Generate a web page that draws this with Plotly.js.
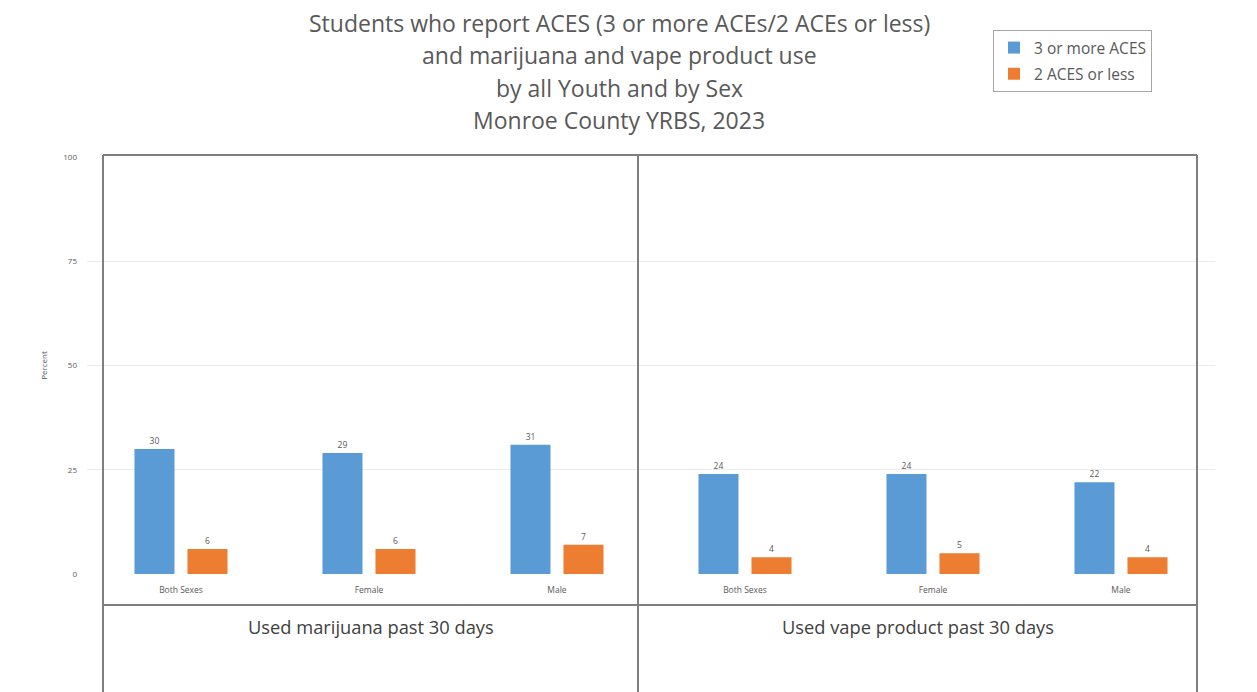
<!DOCTYPE html>
<html><head><meta charset="utf-8">
<script src="https://cdn.plot.ly/plotly-3.0.1.min.js"></script>
<style>html,body{margin:0;padding:0;background:#fff}#chart{width:1257px;height:692px}</style>
</head><body><div id="chart"></div>
<script>
// ---- data ----
const titleLines = ["Students who report ACES (3 or more ACEs/2 ACEs or less)", "and marijuana and vape product use", "by all Youth and by Sex", "Monroe County YRBS, 2023"];
const groups = ["Used marijuana past 30 days", "Used vape product past 30 days"];
const categories = ["Both Sexes", "Female", "Male", "Both Sexes", "Female", "Male"];
const seriesNames = ["3 or more ACES", "2 ACES or less"];
const aces3plus = [30, 29, 31, 24, 24, 22];
const aces2less = [6, 6, 7, 4, 5, 4];
const yTicks = [0, 25, 50, 75, 100];

// ---- layout geometry (pixels) ----
const W = 1257, H = 692;
const plotL = 87, plotR = 1215, plotT = 157, plotB = 574;
const frameL = 103, frameM = 638, frameR = 1197, frameT = 155, frameH = 605, frameBottom = 700;
const px2paperX = p => (p - plotL) / (plotR - plotL);
const px2paperY = p => (plotB - p) / (plotB - plotT);

const FAM = "'Open Sans', Lato, sans-serif";
const xIdx = categories.map((c, i) => i);
const txtFont = {family: FAM, size: 8, color: "#595959"};
const lblFont = {family: FAM, size: 8.5, color: "#595959"};
const catFont = {family: FAM, size: 8.5, color: "#595959"};

const traces = [
  {type: "bar", name: seriesNames[0], x: xIdx, y: aces3plus, marker: {color: "#5B9BD5"},
   text: aces3plus.map(String), textposition: "outside", textfont: lblFont, cliponaxis: false, legendgroup: "a"},
  {type: "bar", name: seriesNames[1], x: xIdx, y: aces2less, marker: {color: "#ED7D31"},
   text: aces2less.map(String), textposition: "outside", textfont: lblFont, cliponaxis: false, legendgroup: "b"}
];

const lineStyle = {color: "#7f7f7f", width: 2};
const shapes = [
  {type: "line", xref: "paper", yref: "paper", x0: px2paperX(frameL), x1: px2paperX(frameR), y0: px2paperY(frameT), y1: px2paperY(frameT), line: lineStyle},
  {type: "line", xref: "paper", yref: "paper", x0: px2paperX(frameL), x1: px2paperX(frameL), y0: px2paperY(frameT), y1: px2paperY(frameBottom), line: lineStyle},
  {type: "line", xref: "paper", yref: "paper", x0: px2paperX(frameM), x1: px2paperX(frameM), y0: px2paperY(frameT), y1: px2paperY(frameBottom), line: lineStyle},
  {type: "line", xref: "paper", yref: "paper", x0: px2paperX(frameR), x1: px2paperX(frameR), y0: px2paperY(frameT), y1: px2paperY(frameBottom), line: lineStyle},
  {type: "line", xref: "paper", yref: "paper", x0: px2paperX(frameL), x1: px2paperX(frameR), y0: px2paperY(frameH), y1: px2paperY(frameH), line: lineStyle}
];

const titleFont = {family: FAM, size: 23, color: "#595959"};
const titleY = [23, 55, 88, 120];
const annotations = titleLines.map((t, i) => ({
  text: t, xref: "paper", yref: "paper", x: px2paperX(619), y: px2paperY(titleY[i]),
  xanchor: "center", yanchor: "middle", showarrow: false, font: titleFont
}));
const groupFont = {family: FAM, size: 18.3, color: "#404040"};
annotations.push(
  {text: groups[0], xref: "paper", yref: "paper", x: px2paperX((frameL + frameM) / 2), y: px2paperY(626), xanchor: "center", yanchor: "middle", showarrow: false, font: groupFont},
  {text: groups[1], xref: "paper", yref: "paper", x: px2paperX((frameM + frameR) / 2), y: px2paperY(626), xanchor: "center", yanchor: "middle", showarrow: false, font: groupFont}
);

const layout = {
  width: W, height: H,
  margin: {l: plotL, r: W - plotR, t: plotT, b: H - plotB, pad: 0},
  paper_bgcolor: "#fff", plot_bgcolor: "#fff",
  barmode: "group", bargap: 0.436, bargroupgap: 0.245,
  showlegend: true,
  legend: {x: px2paperX(993), y: px2paperY(30), xanchor: "left", yanchor: "top",
    bordercolor: "#a6a6a6", borderwidth: 1, bgcolor: "#fff",
    font: {family: FAM, size: 15.5, color: "#595959"},
    traceorder: "grouped", tracegroupgap: 3, itemwidth: 30},
  xaxis: {range: [-0.5, categories.length - 0.5], tickvals: xIdx, ticktext: categories,
    ticks: "", showgrid: false, zeroline: false, showline: false, fixedrange: true,
    tickfont: catFont, ticklabelstandoff: 9},
  yaxis: {range: [0, 100], tickvals: yTicks, ticks: "", showline: false, zeroline: false,
    gridcolor: "#ececec", gridwidth: 1, tickfont: txtFont, ticklabelstandoff: 9,
    title: {text: "Percent", font: txtFont, standoff: 14}},
  shapes: shapes,
  annotations: annotations
};

Plotly.newPlot("chart", traces, layout, {displayModeBar: false, staticPlot: true});
</script></body></html>
